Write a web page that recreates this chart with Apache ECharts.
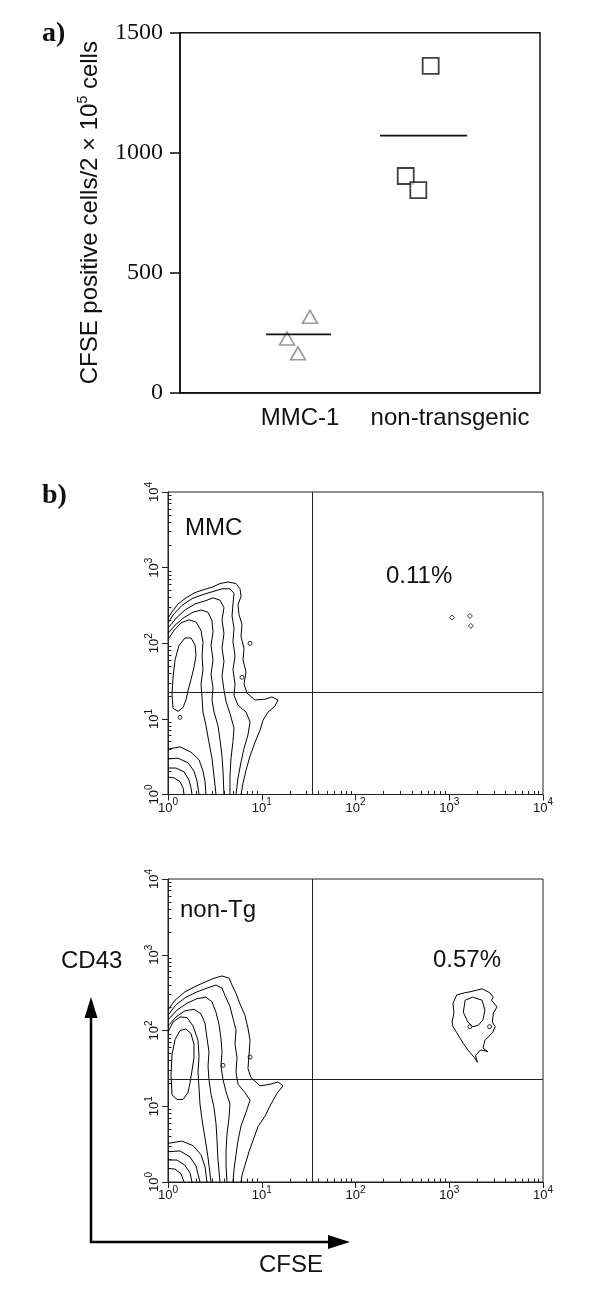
<!DOCTYPE html>
<html><head><meta charset="utf-8">
<script src="https://cdn.jsdelivr.net/npm/echarts@6/dist/echarts.min.js"></script>
<style>html,body{margin:0;padding:0;background:#fff}#c{width:600px;height:1299px}</style>
</head><body><div id="c"></div>
<script>
// ---------- Panel a data ----------
const categories = ['MMC-1', 'non-transgenic'];
const categoryPos = [1, 2];
const mmcValues = [316, 226, 164];
const mmcJitter = [1.083, 0.892, 0.983];
const mmcMean = 243;
const mmcMeanSpan = [0.717, 1.258];
const nonTgValues = [1362, 903, 844];
const nonTgJitter = [2.089, 1.881, 1.986];
const nonTgMean = 1071;
const nonTgMeanSpan = [1.667, 2.392];
const yTicksA = [0, 500, 1000, 1500];

// ---------- Panel b data (log10 fluorescence) ----------
const logDecades = [0, 1, 2, 3, 4];
const gateCFSE = 1.54;
const gateCD43 = 1.355;
const pctMMC = '0.11%';
const pctNonTg = '0.57%';

const mmcA5 = [[0,2.33],[0.04,2.41],[0.107,2.52],[0.192,2.60],[0.288,2.67],[0.384,2.71],[0.469,2.74],[0.555,2.79],[0.64,2.81],[0.725,2.79],[0.768,2.72],[0.779,2.62],[0.747,2.51],[0.757,2.38],[0.789,2.25],[0.779,2.09],[0.811,1.93],[0.80,1.78],[0.832,1.62],[0.811,1.46],[0.843,1.34],[0.928,1.25],[1.035,1.26],[1.109,1.29],[1.173,1.25],[1.141,1.17],[1.067,1.09],[1.013,0.98],[0.981,0.85],[0.928,0.69],[0.875,0.51],[0.832,0.32],[0.80,0.15],[0.779,0]];
const mmcA4 = [[0,2.27],[0.064,2.39],[0.149,2.50],[0.256,2.59],[0.363,2.64],[0.469,2.68],[0.576,2.72],[0.661,2.72],[0.704,2.66],[0.693,2.52],[0.683,2.36],[0.704,2.20],[0.693,2.02],[0.715,1.83],[0.693,1.65],[0.715,1.46],[0.704,1.31],[0.747,1.18],[0.832,1.09],[0.875,0.96],[0.853,0.79],[0.811,0.61],[0.779,0.43],[0.747,0.22],[0.725,0]];
const mmcA3 = [[0,2.20],[0.085,2.33],[0.181,2.44],[0.288,2.52],[0.395,2.56],[0.48,2.60],[0.555,2.57],[0.597,2.47],[0.576,2.31],[0.597,2.13],[0.576,1.94],[0.597,1.76],[0.576,1.57],[0.597,1.38],[0.619,1.23],[0.661,1.07],[0.704,0.88],[0.693,0.70],[0.672,0.48],[0.661,0.24],[0.661,0]];
const mmcA2 = [[0,2.13],[0.075,2.24],[0.171,2.34],[0.267,2.41],[0.352,2.44],[0.427,2.41],[0.469,2.30],[0.48,2.15],[0.459,1.97],[0.48,1.78],[0.459,1.59],[0.48,1.41],[0.469,1.25],[0.491,1.09],[0.533,0.91],[0.555,0.72],[0.576,0.51],[0.587,0.30],[0.597,0]];
const mmcA1 = [[0,2.05],[0.064,2.17],[0.139,2.27],[0.224,2.31],[0.299,2.28],[0.352,2.17],[0.373,2.01],[0.363,1.83],[0.373,1.65],[0.352,1.46],[0.363,1.28],[0.373,1.09],[0.405,0.91],[0.437,0.69],[0.469,0.48],[0.491,0.24],[0.512,0]];
const mmcU = [[0.053,1.14],[0.043,1.33],[0.053,1.54],[0.075,1.78],[0.117,1.97],[0.181,2.07],[0.245,2.07],[0.288,1.98],[0.299,1.84],[0.277,1.68],[0.245,1.52],[0.213,1.37],[0.192,1.25],[0.16,1.15],[0.107,1.10],[0.053,1.14]];
const mmcK1 = [[0,0.23],[0.064,0.22],[0.128,0.17],[0.16,0.09],[0.171,0]];
const mmcK2 = [[0,0.35],[0.085,0.35],[0.171,0.30],[0.224,0.19],[0.245,0.09],[0.256,0]];
const mmcK3 = [[0,0.47],[0.107,0.48],[0.213,0.42],[0.277,0.31],[0.309,0.18],[0.331,0]];
const mmcK4 = [[0,0.60],[0.128,0.63],[0.245,0.56],[0.331,0.46],[0.373,0.31],[0.395,0.17],[0.405,0]];
const mmcSpecks = [[0.875,2.0],[0.789,1.55],[0.128,1.02]];
const mmcEvents = [[3.03,2.34],[3.22,2.36],[3.23,2.23]];

const ntB5 = [[0,2.27],[0.075,2.40],[0.181,2.51],[0.288,2.58],[0.395,2.64],[0.491,2.69],[0.576,2.72],[0.651,2.69],[0.683,2.60],[0.725,2.49],[0.768,2.35],[0.821,2.20],[0.853,2.03],[0.875,1.87],[0.864,1.67],[0.853,1.50],[0.885,1.38],[0.981,1.27],[1.088,1.29],[1.173,1.32],[1.227,1.27],[1.163,1.17],[1.099,1.03],[1.035,0.87],[0.96,0.73],[0.907,0.55],[0.864,0.40],[0.821,0.22],[0.789,0.09],[0.779,0]];
const ntB4 = [[0,2.20],[0.085,2.34],[0.192,2.44],[0.309,2.51],[0.416,2.56],[0.512,2.60],[0.576,2.56],[0.608,2.46],[0.661,2.32],[0.693,2.16],[0.725,2.01],[0.715,1.82],[0.736,1.64],[0.725,1.45],[0.747,1.29],[0.821,1.18],[0.875,1.08],[0.832,0.92],[0.779,0.74],[0.747,0.55],[0.725,0.36],[0.704,0.16],[0.693,0]];
const ntB3 = [[0,2.14],[0.096,2.27],[0.203,2.36],[0.309,2.42],[0.405,2.44],[0.469,2.38],[0.512,2.24],[0.544,2.08],[0.565,1.89],[0.576,1.72],[0.565,1.53],[0.587,1.35],[0.619,1.19],[0.661,1.03],[0.651,0.85],[0.629,0.63],[0.619,0.42],[0.619,0.21],[0.629,0]];
const ntB2 = [[0,2.06],[0.085,2.18],[0.181,2.26],[0.277,2.28],[0.352,2.22],[0.395,2.09],[0.416,1.90],[0.437,1.72],[0.427,1.53],[0.437,1.35],[0.459,1.16],[0.491,0.98],[0.512,0.77],[0.523,0.55],[0.533,0.29],[0.555,0]];
const ntB1 = [[0,1.98],[0.053,2.11],[0.128,2.18],[0.203,2.17],[0.267,2.06],[0.32,1.87],[0.331,1.66],[0.32,1.45],[0.331,1.24],[0.341,1.03],[0.363,0.82],[0.395,0.58],[0.427,0.32],[0.459,0]];
const ntU = [[0.043,1.15],[0.032,1.41],[0.043,1.68],[0.075,1.88],[0.128,2.00],[0.192,2.02],[0.245,1.96],[0.277,1.82],[0.277,1.64],[0.256,1.47],[0.235,1.31],[0.213,1.18],[0.16,1.09],[0.096,1.09],[0.043,1.15]];
const ntJ1 = [[0,0.18],[0.075,0.17],[0.139,0.11],[0.171,0]];
const ntJ2 = [[0,0.29],[0.096,0.29],[0.181,0.22],[0.235,0.12],[0.256,0]];
const ntJ3 = [[0,0.40],[0.128,0.41],[0.235,0.33],[0.299,0.21],[0.341,0]];
const ntJ4 = [[0,0.51],[0.149,0.54],[0.267,0.48],[0.352,0.36],[0.395,0.20],[0.416,0]];
const ntSpecks = [[0.587,1.54],[0.875,1.65]];
const ntPosOuter = [[3.04,2.36],[3.08,2.47],[3.17,2.50],[3.22,2.51],[3.35,2.55],[3.43,2.50],[3.47,2.44],[3.45,2.40],[3.51,2.31],[3.47,2.23],[3.46,2.11],[3.49,2.05],[3.46,1.97],[3.38,1.87],[3.36,1.77],[3.41,1.72],[3.36,1.74],[3.33,1.74],[3.28,1.67],[3.30,1.58],[3.27,1.64],[3.20,1.74],[3.15,1.83],[3.08,1.97],[3.04,2.05],[3.03,2.11],[3.05,2.23],[3.04,2.36]];
const ntPosInner = [[3.17,2.40],[3.25,2.44],[3.35,2.40],[3.38,2.27],[3.36,2.14],[3.31,2.07],[3.25,2.05],[3.20,2.11],[3.15,2.24],[3.17,2.40]];
const ntPosSpecks = [[3.22,2.05],[3.43,2.05]];

const mmcContours = [mmcA5, mmcA4, mmcA3, mmcA2, mmcA1, mmcU, mmcK1, mmcK2, mmcK3, mmcK4];
const ntContours = [ntB5, ntB4, ntB3, ntB2, ntB1, ntU, ntJ1, ntJ2, ntJ3, ntJ4, ntPosOuter, ntPosInner];

// ---------- build option ----------
const chart = echarts.init(document.getElementById('c'), null, {renderer: 'canvas'});
const minorTicks = [];
for (let d = 0; d < 4; d++) for (let k = 2; k <= 9; k++) minorTicks.push(d + Math.log10(k));
const SANS = 'Liberation Sans';
const SERIF = 'Liberation Serif';
const INK = '#111';
const supFmt = v => '{b|10}{s|' + v + '}';
const tickRich = {
  b: {fontSize: 13, fontFamily: SANS, color: INK, lineHeight: 17, verticalAlign: 'bottom'},
  s: {fontSize: 10, fontFamily: SANS, color: INK, lineHeight: 10, verticalAlign: 'top'}
};

function logAxes(gridIndex, dim) {
  const major = {
    type: 'value', gridIndex, min: 0, max: 4, interval: 1,
    axisLine: {show: true, onZero: false, lineStyle: {color: '#222', width: 1}},
    axisTick: {show: true, length: 6, lineStyle: {color: '#222', width: 1}},
    splitLine: {show: false},
    axisLabel: {show: true, formatter: supFmt, rich: tickRich, margin: dim === 'x' ? 3 : 7,
      rotate: dim === 'y' ? 90 : 0}
  };
  const minor = {
    type: 'value', gridIndex, min: 0, max: 4,
    axisLine: {show: false},
    axisTick: {show: true, length: 3.5, customValues: minorTicks, lineStyle: {color: '#222', width: 1}},
    axisLabel: {show: false},
    splitLine: {show: false}
  };
  return [major, minor];
}

const xAxes = [
  {
    type: 'value', gridIndex: 0, min: 0, max: 3,
    axisLine: {show: true, lineStyle: {color: INK, width: 1.5}},
    axisTick: {show: false},
    splitLine: {show: false},
    axisLabel: {show: true, customValues: [categoryPos[0], 2.25], margin: 14, fontFamily: SANS, fontSize: 24, color: INK,
      formatter: v => (v < 1.5 ? categories[0] : categories[1])}
  },
  ...logAxes(1, 'x'), ...logAxes(2, 'x')
];
const yAxes = [
  {
    type: 'value', gridIndex: 0, min: 0, max: 1500, interval: 500,
    axisLine: {show: true, lineStyle: {color: INK, width: 1.5}},
    axisTick: {show: true, length: 10, inside: false, lineStyle: {color: INK, width: 1.5}},
    splitLine: {show: false},
    axisLabel: {margin: 17, fontFamily: SERIF, fontSize: 24, color: INK, formatter: v => String(v)},
    name: 'CFSE positive cells/2 × 10{sup|5} cells',
    nameLocation: 'middle', nameGap: 76,
    nameTextStyle: {fontFamily: SANS, fontSize: 24, color: INK, lineHeight: 28,
      rich: {sup: {fontFamily: SANS, fontSize: 14, color: INK, lineHeight: 14, verticalAlign: 'top'}}}
  },
  ...logAxes(1, 'y'), ...logAxes(2, 'y')
];

const series = [];
const lineBase = {type: 'line', showSymbol: false, symbol: 'none', silent: true, animation: false,
  lineStyle: {color: '#000', width: 1}};
// Panel a
series.push({
  type: 'scatter', xAxisIndex: 0, yAxisIndex: 0, symbol: 'triangle', symbolSize: [15, 13],
  itemStyle: {color: '#fff', borderColor: '#808080', borderWidth: 1.6},
  data: mmcValues.map((v, i) => [mmcJitter[i], v])
});
series.push({
  type: 'scatter', xAxisIndex: 0, yAxisIndex: 0, symbol: 'rect', symbolSize: 16,
  itemStyle: {color: '#fff', borderColor: '#111', borderWidth: 1.8},
  data: nonTgValues.map((v, i) => [nonTgJitter[i], v])
});
series.push(Object.assign({}, lineBase, {xAxisIndex: 0, yAxisIndex: 0, lineStyle: {color: '#111', width: 1.6},
  data: mmcMeanSpan.map(x => [x, mmcMean])}));
series.push(Object.assign({}, lineBase, {xAxisIndex: 0, yAxisIndex: 0, lineStyle: {color: '#111', width: 1.6},
  data: nonTgMeanSpan.map(x => [x, nonTgMean])}));

function addFlow(axisIdx, contours, specks, events) {
  contours.forEach(c => series.push(Object.assign({}, lineBase, {xAxisIndex: axisIdx, yAxisIndex: axisIdx, data: c})));
  series.push({type: 'scatter', xAxisIndex: axisIdx, yAxisIndex: axisIdx, symbol: 'circle', symbolSize: 4,
    itemStyle: {color: '#fff', borderColor: '#000', borderWidth: 1}, silent: true, data: specks});
  if (events) series.push({type: 'scatter', xAxisIndex: axisIdx, yAxisIndex: axisIdx, symbol: 'diamond', symbolSize: 5,
    itemStyle: {color: '#fff', borderColor: '#000', borderWidth: 1}, silent: true, data: events});
  series.push({type: 'line', xAxisIndex: axisIdx, yAxisIndex: axisIdx, data: [], silent: true,
    markLine: {symbol: 'none', silent: true, animation: false, label: {show: false},
      lineStyle: {color: '#222', width: 1, type: 'solid'},
      data: [{xAxis: gateCFSE}, {yAxis: gateCD43}]}});
}
addFlow(1, mmcContours, mmcSpecks, mmcEvents);
addFlow(3, ntContours, ntSpecks.concat(ntPosSpecks), null);

const txt = (left, top, text, font) => ({type: 'text', left, top, silent: true,
  style: {text, font, fill: INK}});

const option = {
  animation: false,
  backgroundColor: '#fff',
  grid: [
    {left: 180, top: 32.7, width: 360, height: 360, show: true, borderColor: INK, borderWidth: 1.5},
    {left: 168, top: 492, width: 375, height: 302.5, show: true, borderColor: '#222', borderWidth: 1},
    {left: 168, top: 879, width: 375, height: 303, show: true, borderColor: '#222', borderWidth: 1}
  ],
  xAxis: xAxes,
  yAxis: yAxes,
  series,
  graphic: [
    txt(42, 20, 'a)', 'bold 28px "Liberation Serif"'),
    txt(42, 482, 'b)', 'bold 28px "Liberation Serif"'),
    txt(185, 516, 'MMC', '24px "Liberation Sans"'),
    txt(386, 564, pctMMC, '24px "Liberation Sans"'),
    txt(180, 898, 'non-Tg', '24px "Liberation Sans"'),
    txt(433, 948, pctNonTg, '24px "Liberation Sans"'),
    txt(61, 949, 'CD43', '24px "Liberation Sans"'),
    txt(259, 1253, 'CFSE', '24px "Liberation Sans"'),
    {type: 'polyline', silent: true, shape: {points: [[91, 1015], [91, 1242], [330, 1242]]},
      style: {stroke: '#000', lineWidth: 2.5, fill: null}},
    {type: 'polygon', silent: true, shape: {points: [[91, 997], [84.5, 1018], [97.5, 1018]]}, style: {fill: '#000'}},
    {type: 'polygon', silent: true, shape: {points: [[350, 1242], [328, 1235], [328, 1249]]}, style: {fill: '#000'}}
  ]
};
chart.setOption(option);
</script></body></html>
